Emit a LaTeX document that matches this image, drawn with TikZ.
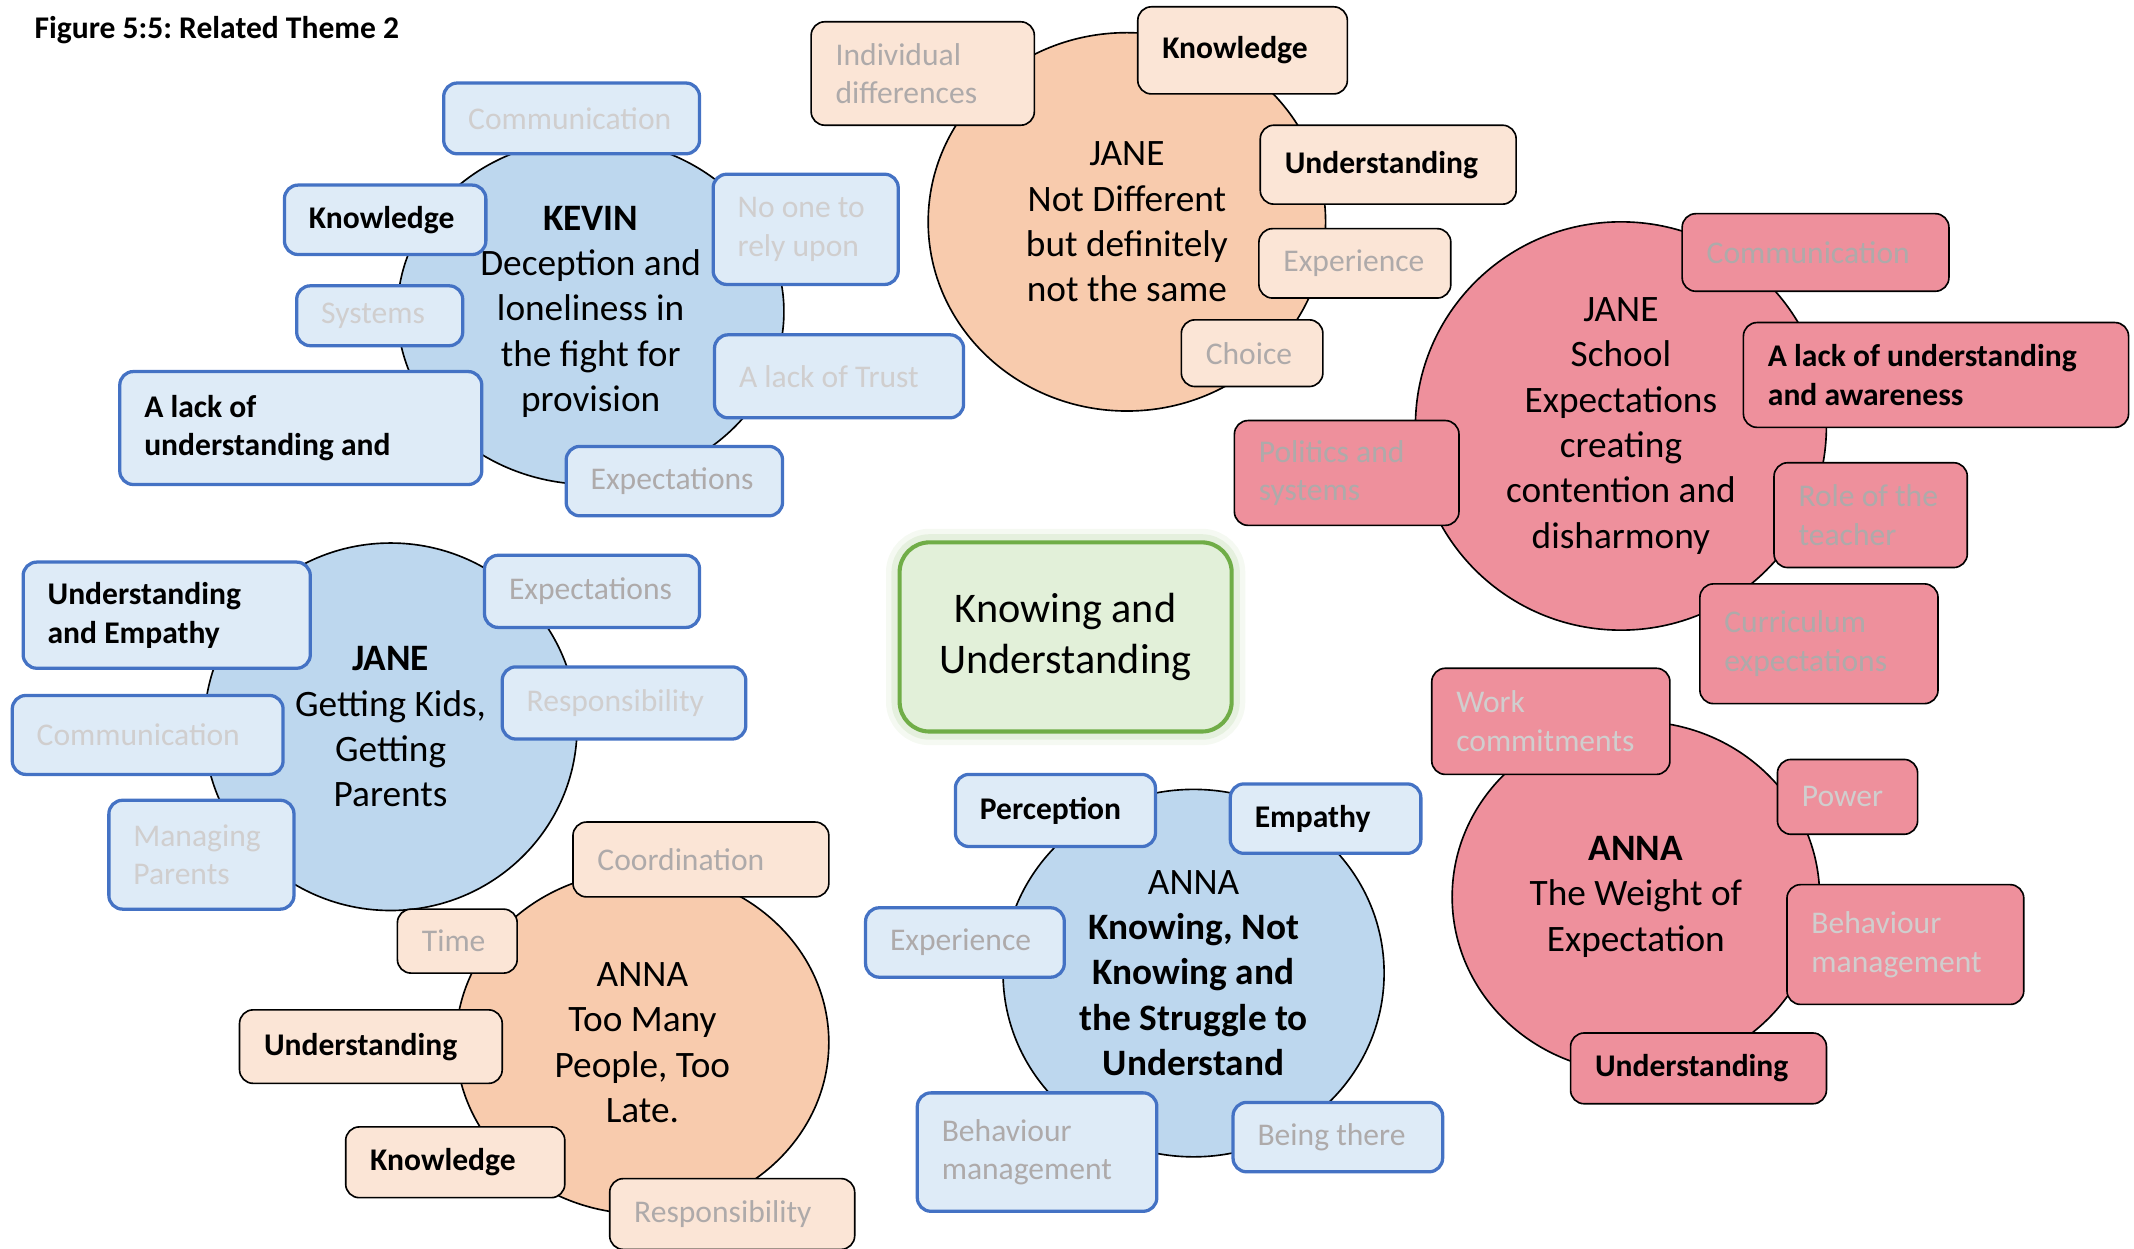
\documentclass[tikz,border=0pt]{standalone}
\usepackage{fontspec}
\setmainfont{Carlito}
\usetikzlibrary{shapes.geometric}

\definecolor{circblue}{HTML}{BDD7EE}
\definecolor{boxblue}{HTML}{DEEBF7}
\definecolor{lineblue}{HTML}{4472C4}
\definecolor{circorange}{HTML}{F8CBAD}
\definecolor{boxorange}{HTML}{FBE5D6}
\definecolor{circpink}{HTML}{EE909C}
\definecolor{boxgreen}{HTML}{E2F0D9}
\definecolor{linegreen}{HTML}{70AD47}
\definecolor{greylight}{HTML}{D0CECE}
\definecolor{greymid}{HTML}{AEAAAA}

\tikzset{
  theme/.style={ellipse, draw=black, line width=0.6pt, inner sep=0pt, align=center,
    font=\fontsize{13.7}{16.65}\selectfont},
  bluecirc/.style={theme, fill=circblue},
  orcirc/.style={theme, fill=circorange},
  pinkcirc/.style={theme, fill=circpink},
  code/.style={rectangle, rounded corners=5pt, align=flush left, inner xsep=9pt, inner ysep=0pt,
    font=\fontsize{11.6}{14.2}\selectfont},
  bluebox/.style={code, draw=lineblue, line width=1.2pt, fill=boxblue},
  orbox/.style={code, draw=black, line width=0.6pt, fill=boxorange},
  pinkbox/.style={code, draw=black, line width=0.6pt, fill=circpink},
  light/.style={text=greylight},
  mid/.style={text=greymid},
  boldcode/.style={font=\fontsize{11.6}{14.2}\selectfont\bfseries},
  core/.style={rectangle, rounded corners=11pt, draw=linegreen, line width=1.5pt, fill=boxgreen,
    align=center, font=\fontsize{15.5}{19}\selectfont,
    preaction={draw=linegreen!60, line width=10pt, opacity=0.12},
    preaction={draw=linegreen!60, line width=6pt, opacity=0.2}},
}

\begin{document}
\frenchspacing
\begin{tikzpicture}[x=0.5pt, y=-0.5pt]
    \useasboundingbox (0,0) rectangle (1568,917);

    \node[anchor=west, inner sep=0pt, font=\fontsize{11.6}{14.2}\selectfont\bfseries] (title) at (25,22) {Figure 5:5: Related Theme 2};

    % themes
    \node[bluecirc, minimum width=142pt, minimum height=127pt] (kevin) at (434,229)
        {\textbf{KEVIN}\\Deception and\\loneliness in\\the fight for\\provision};
    \node[orcirc, minimum width=146pt, minimum height=139pt] (janeND) at (828,163)
        {JANE\\Not Different\\but definitely\\not the same};
    \node[pinkcirc, minimum width=151pt, minimum height=150pt] (janeSE) at (1191,313)
        {JANE\\School\\Expectations\\creating\\contention and\\disharmony};
    \node[bluecirc, minimum width=137pt, minimum height=135pt] (janeGK) at (287,534)
        {\textbf{JANE}\\Getting Kids,\\Getting\\Parents};
    \node[orcirc, minimum width=137pt, minimum height=126pt] (annaTM) at (472,766)
        {ANNA\\Too Many\\People, Too\\Late.};
    \node[bluecirc, minimum width=140pt, minimum height=135pt] (annaKN) at (877,715)
        {ANNA\\\textbf{Knowing, Not}\\\textbf{Knowing and}\\\textbf{the Struggle to}\\\textbf{Understand}};
    \node[pinkcirc, minimum width=135pt, minimum height=129pt] (annaWE) at (1202,659)
        {\textbf{ANNA}\\The Weight of\\Expectation};

    % centre
    \node[core, minimum width=122pt, minimum height=69.5pt] (knowing) at (783,468)
        {Knowing and\\Understanding};

    % kevin codes
    \node[bluebox, light, text width=76pt, minimum height=26pt] (kCom) at (420,87) {Communication};
    \node[bluebox, boldcode, text width=56pt, minimum height=25.5pt] (kKnow) at (283,161.5) {Knowledge};
    \node[bluebox, light, text width=50pt, minimum height=40.5pt] (kRely) at (592,168.5) {No one to\\rely upon};
    \node[bluebox, light, text width=43pt, minimum height=22pt] (kSys) at (279,232) {Systems};
    \node[bluebox, light, text width=73.5pt, minimum height=30.5pt] (kTrust) at (616.5,276.5) {A lack of Trust};
    \node[bluebox, boldcode, text width=115pt, minimum height=41.5pt] (kLack) at (221,314.5) {A lack of\\understanding and};
    \node[bluebox, mid, text width=61.5pt, minimum height=25.5pt] (kExp) at (495.5,353.5) {Expectations};

    % jane not different codes
    \node[orbox, mid, text width=64pt, minimum height=38pt] (ndInd) at (678,54) {Individual\\differences};
    \node[orbox, boldcode, text width=59pt, minimum height=32pt] (ndKnow) at (913,37) {Knowledge};
    \node[orbox, boldcode, text width=76pt, minimum height=29pt] (ndUnd) at (1020,121) {Understanding};
    \node[orbox, mid, text width=52.5pt, minimum height=25.5pt] (ndExp) at (995.5,193.5) {Experience};
    \node[orbox, mid, text width=34pt, minimum height=24.5pt] (ndCho) at (920,259.5) {Choice};

    % jane school codes
    \node[pinkbox, mid, text width=80pt, minimum height=28.5pt] (seCom) at (1334,185.5) {Communication};
    \node[pinkbox, boldcode, text width=123.5pt, minimum height=38.5pt] (seLack) at (1422.5,275.5) {A lack of understanding\\and awareness};
    \node[pinkbox, mid, text width=64.5pt, minimum height=38.5pt] (sePol) at (989.5,347.5) {Politics and\\systems};
    \node[pinkbox, mid, text width=53pt, minimum height=38.5pt] (seRole) at (1374.5,378.5) {Role of the\\teacher};
    \node[pinkbox, mid, text width=69.5pt, minimum height=44pt] (seCur) at (1336.5,473) {Curriculum\\expectations};

    % jane getting kids codes
    \node[bluebox, boldcode, text width=87.5pt, minimum height=39pt] (gkUnd) at (122.5,452) {Understanding\\and Empathy};
    \node[bluebox, mid, text width=61pt, minimum height=26.5pt] (gkExp) at (435,434.5) {Expectations};
    \node[bluebox, light, text width=81.5pt, minimum height=29pt] (gkCom) at (108.5,540) {Communication};
    \node[bluebox, light, text width=71.5pt, minimum height=26.5pt] (gkRes) at (458.5,516.5) {Responsibility};
    \node[bluebox, light, text width=50pt, minimum height=40pt] (gkMan) at (148,628) {Managing\\Parents};

    % anna too many codes
    \node[orbox, mid, text width=76pt, minimum height=27.5pt] (tmCoo) at (515,631.5) {Coordination};
    \node[orbox, mid, text width=26pt, minimum height=23.5pt] (tmTim) at (336,691.5) {Time};
    \node[orbox, boldcode, text width=78.5pt, minimum height=27pt] (tmUnd) at (272.5,769) {Understanding};
    \node[orbox, boldcode, text width=62.5pt, minimum height=26pt] (tmKno) at (334.5,854) {Knowledge};
    \node[orbox, mid, text width=72pt, minimum height=26pt] (tmRes) at (538,892) {Responsibility};

    % anna knowing codes
    \node[bluebox, boldcode, text width=55.5pt, minimum height=26.5pt] (knPer) at (775.5,595.5) {Perception};
    \node[bluebox, boldcode, text width=52pt, minimum height=25.5pt] (knEmp) at (974,601.5) {Empathy};
    \node[bluebox, mid, text width=55pt, minimum height=25.5pt] (knExp) at (709,692.5) {Experience};
    \node[bluebox, mid, text width=70pt, minimum height=43.5pt] (knBeh) at (762,846.5) {Behaviour\\management};
    \node[bluebox, mid, text width=59pt, minimum height=25.5pt] (knBei) at (983,835.5) {Being there};

    % anna weight codes
    \node[pinkbox, light, text width=69.5pt, minimum height=39pt] (weWor) at (1139.5,530) {Work\\commitments};
    \node[pinkbox, light, text width=33.5pt, minimum height=27.5pt] (wePow) at (1357.5,585.5) {Power};
    \node[pinkbox, light, text width=69pt, minimum height=44pt] (weBeh) at (1400,694) {Behaviour\\management};
    \node[pinkbox, boldcode, text width=76pt, minimum height=26pt] (weUnd) at (1248,785) {Understanding};
\end{tikzpicture}
\end{document}
